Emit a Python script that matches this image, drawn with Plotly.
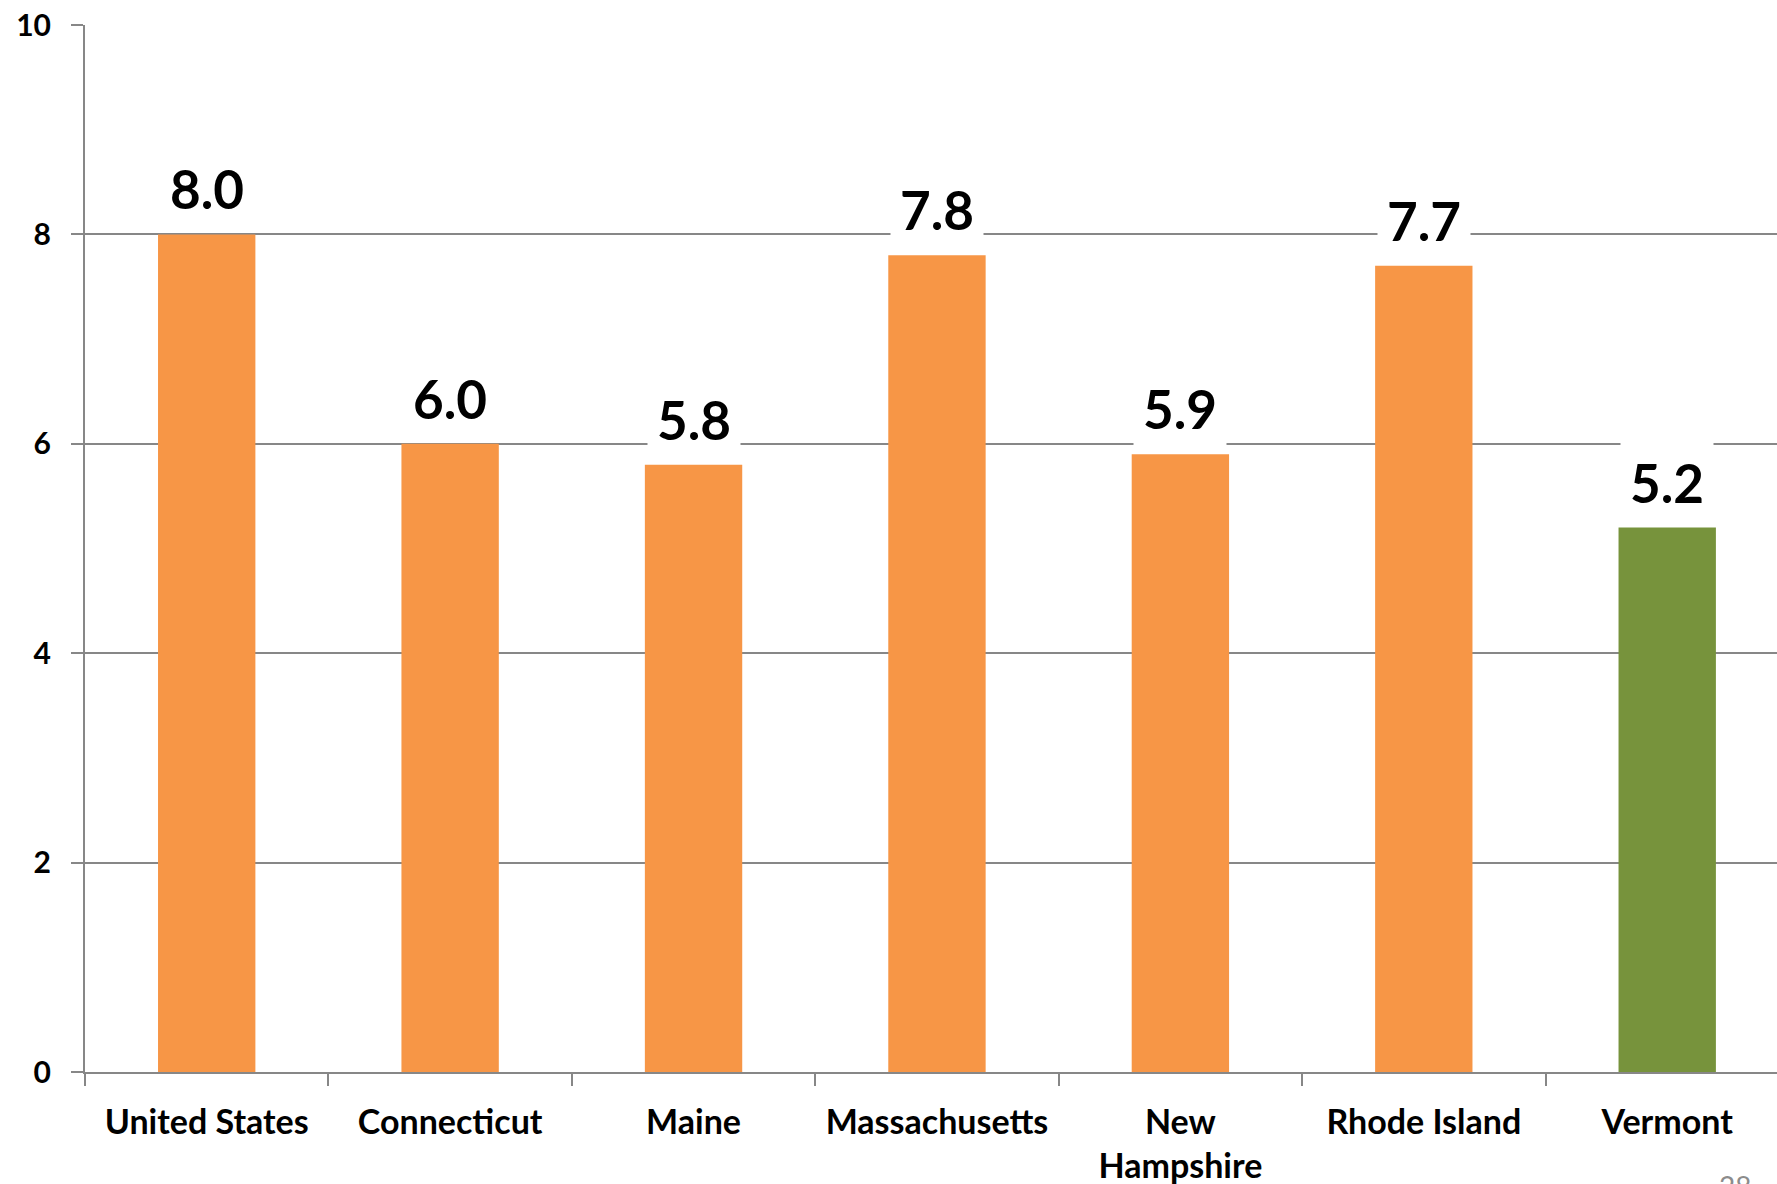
import plotly.graph_objects as go

# Chart data
categories = ["United States", "Connecticut", "Maine", "Massachusetts",
              "New<br>Hampshire", "Rhode Island", "Vermont"]
values = [8.0, 6.0, 5.8, 7.8, 5.9, 7.7, 5.2]
bar_colors = ["#F79646", "#F79646", "#F79646", "#F79646",
              "#F79646", "#F79646", "#77933C"]
y_ticks = [0, 2, 4, 6, 8, 10]

W, H = 1777, 1184
M_L, M_R, M_T, M_B = 85, 0, 25, 112
FONT = "Lato"
GRAY = "#878787"

fig = go.Figure()
fig.add_trace(go.Bar(
    x=categories,
    y=values,
    marker=dict(color=bar_colors, line=dict(width=0)),
    width=0.4,
    hoverinfo="skip",
))

# Value labels on white boxes above each bar
for cat, val in zip(categories, values):
    fig.add_annotation(
        x=cat, y=val, xref="x", yref="y",
        text=f"{val:.1f}",
        showarrow=False,
        yanchor="middle", xanchor="center",
        yshift=46,
        width=92, height=80,
        bgcolor="white",
        borderpad=0,
        font=dict(family=FONT, size=53, color="black", weight="bold"),
    )

# Slide page number in the lower right corner (pixel position -> paper coords)
plot_w = W - M_L - M_R
plot_h = H - M_T - M_B
page_x, page_y = 1735, 1186
fig.add_annotation(
    x=(page_x - M_L) / plot_w, y=(H - M_B - page_y) / plot_h,
    xref="paper", yref="paper",
    xanchor="center", yanchor="middle",
    text="28", showarrow=False,
    font=dict(family=FONT, size=28, color="#8C8C8C"),
)

fig.update_layout(
    width=W, height=H,
    margin=dict(l=M_L, r=M_R, t=M_T, b=M_B),
    paper_bgcolor="white",
    plot_bgcolor="white",
    showlegend=False,
    bargap=0.6,
)

fig.update_xaxes(
    range=[-0.5, 6.451],
    showline=True, linecolor=GRAY, linewidth=2,
    ticks="outside", ticklen=12, tickcolor=GRAY, tickwidth=2,
    tickson="boundaries",
    showgrid=False,
    tickfont=dict(family=FONT, size=34, color="black", weight="bold"),
    ticklabelstandoff=19,
)

fig.update_yaxes(
    range=[0, 10],
    tickvals=y_ticks,
    showline=True, linecolor=GRAY, linewidth=2,
    ticks="outside", ticklen=12, tickcolor=GRAY, tickwidth=2,
    showgrid=True, gridcolor=GRAY, gridwidth=1.5,
    zeroline=False,
    tickfont=dict(family=FONT, size=30, color="black", weight="bold"),
    ticklabelstandoff=14,
)

fig.write_html("out.html")
